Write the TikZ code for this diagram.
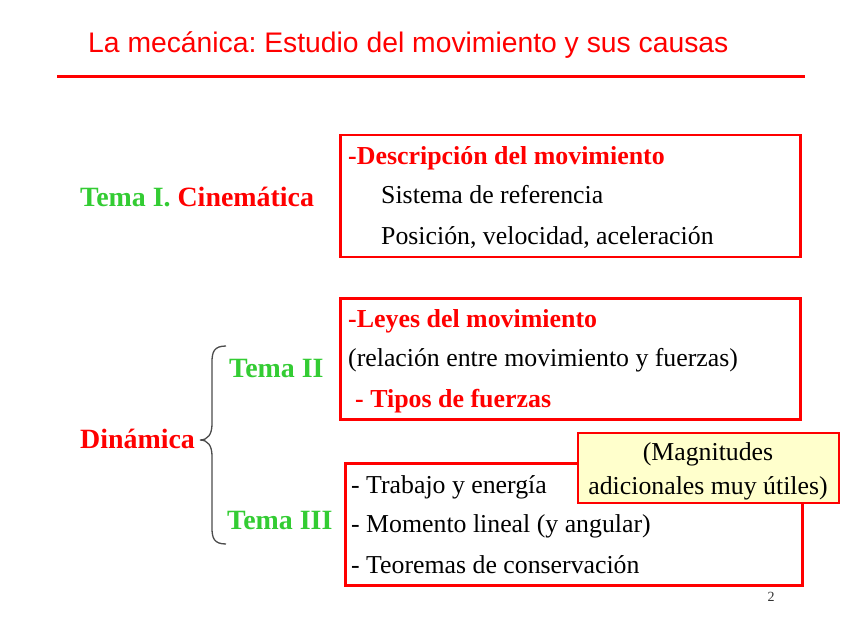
\documentclass[tikz,border=0pt]{standalone}
\usepackage{fontspec}
\setmainfont{Liberation Serif}
\newfontfamily\titlefont{Liberation Sans}
\usetikzlibrary{positioning}
\definecolor{tred}{RGB}{255,0,0}
\definecolor{tgreen}{RGB}{51,204,51}
\definecolor{tyellow}{RGB}{255,255,204}
\tikzset{
  redbox/.style={draw=tred, line width=2.5pt, inner sep=0pt, anchor=north west},
  txt/.style={anchor=base west, inner sep=0pt, font=\fontsize{25.8}{30}\selectfont},
  btxt/.style={txt, font=\fontsize{25.9}{30}\selectfont\bfseries, text=tred},
  gtxt/.style={txt, font=\fontsize{27.9}{32}\selectfont\bfseries, text=tgreen},
}
\frenchspacing
\begin{document}
\frenchspacing
\begin{tikzpicture}[x=1pt,y=-1pt]
\useasboundingbox[fill=white] (0,0) rectangle (848,636);
% title
\node[anchor=base west, inner sep=0pt, text=tred, font=\fontsize{28.3}{32}\titlefont] (title) at (88,53) {La mecánica: Estudio del movimiento y sus causas};
\coordinate (hl1) at (57,77);
\coordinate (hl2) at (805,77);
\draw[tred, line width=3pt] (hl1) -- (hl2);
% boxes
\node[redbox, minimum width=460pt, minimum height=122pt] (b1) at (339,134) {};
\node[redbox, minimum width=460pt, minimum height=121pt] (b2) at (339,297) {};
\node[redbox, minimum width=457pt, minimum height=122pt] (b3) at (344,462) {};
% box 1 text
\node[btxt] (d1) at (348,165) {-Descripción del movimiento};
\node[txt] (d2) at (381,204) {Sistema de referencia};
\node[txt] (d3) at (381,245) {Posición, velocidad, aceleración};
% box 2 text
\node[btxt] (l1) at (348,327) {-Leyes del movimiento};
\node[txt] (l2) at (348,366) {(relación entre movimiento y fuerzas)};
\node[btxt] (l3) at (355,407) {- Tipos de fuerzas};
% box 3 text
\node[txt] (t1) at (351,493) {- Trabajo y energía};
\node[txt] (t2) at (351,532) {- Momento lineal (y angular)};
\node[txt] (t3) at (351,573) {- Teoremas de conservación};
% yellow note
\node[draw=tred, line width=1.5pt, fill=tyellow, anchor=north west, minimum width=261pt, minimum height=70pt, inner sep=0pt] (note) at (577,432) {};
\node[anchor=base, inner sep=0pt, font=\fontsize{25.8}{30}\selectfont] (n1) at (708,460) {(Magnitudes};
\node[anchor=base, inner sep=0pt, font=\fontsize{25.8}{30}\selectfont] (n2) at (708,494) {adicionales muy útiles)};
% left labels
\node[gtxt] (tema1) at (80,207) {Tema I. \textcolor{tred}{Cinemática}};
\node[gtxt] (tema2) at (229,377) {Tema II};
\node[gtxt] (tema3) at (227,529) {Tema III};
\node[txt, font=\fontsize{27.9}{32}\selectfont\bfseries, text=tred] (din) at (80,448) {Dinámica};
% brace
\coordinate (bt) at (226,346);
\coordinate (bb) at (226,544);
\coordinate (bm) at (200,440);
\draw[black!70, line width=1.3pt] (bt) .. controls (214,346) and (212,352) .. (212,362)
  -- (212,424) .. controls (212,434) and (208,440) .. (bm)
  .. controls (208,440) and (212,446) .. (212,456)
  -- (212,528) .. controls (212,538) and (214,544) .. (bb);
% page number
\node[anchor=base, inner sep=0pt, font=\fontsize{14}{16}\selectfont, text=black!80] (pg) at (771,601) {2};
\end{tikzpicture}
\end{document}
